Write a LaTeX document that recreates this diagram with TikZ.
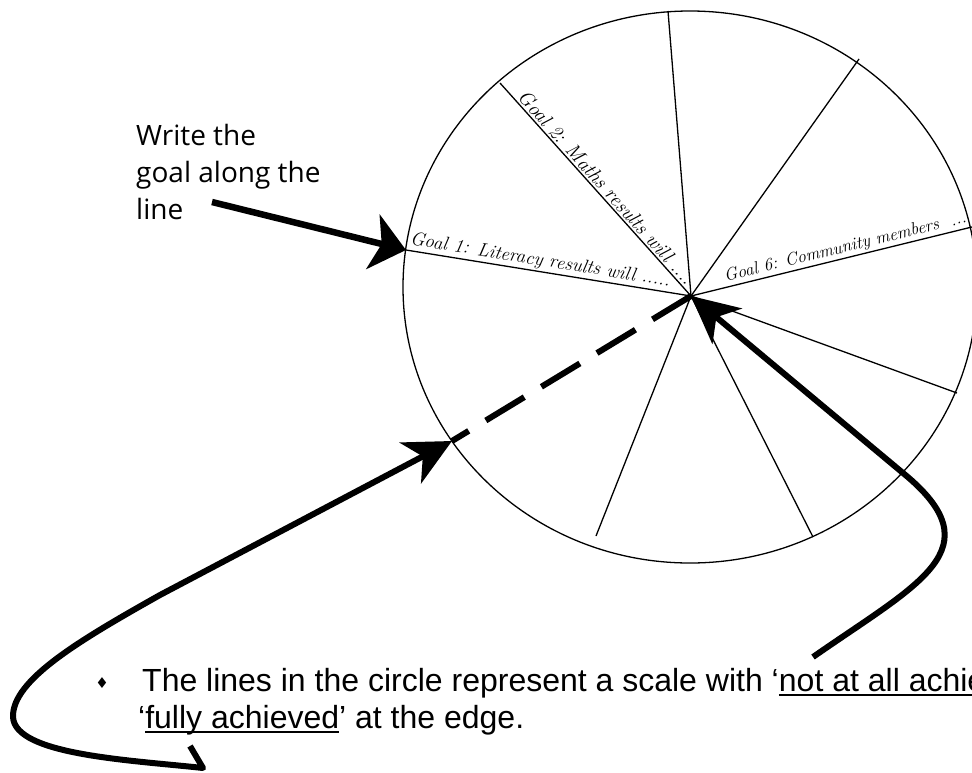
\documentclass[tikz,border=0pt]{standalone}
\usepackage{fontspec}
\newfontfamily\arialfont{Liberation Sans}
\newfontfamily\handfont{Open Sans}
\newfontfamily\symfont{DejaVu Sans}
\usetikzlibrary{arrows.meta}
\newcommand\myul[1]{\setbox0\hbox{#1}\rlap{\rule[-5pt]{\wd0}{1.8pt}}\box0}
\begin{document}
\begin{tikzpicture}[x=1pt,y=-1pt,
  thinline/.style={line width=1.3pt},
  spoke/.style={line width=1.3pt},
  goallabel/.style={sloped, above, inner sep=1.5pt},
  dashline/.style={line width=6pt, dash pattern=on 45pt off 20pt},
  bigarrow/.style={line width=6pt, line join=round, -{Stealth[length=47pt,width=46pt,inset=14pt]}},
  writearrow/.style={line width=6.5pt, -{Stealth[length=34pt,width=56pt,inset=9pt]}},
  bodytext/.style={font=\arialfont\fontsize{32}{37}\selectfont, inner sep=0pt}]
\useasboundingbox (0,0) rectangle (972,772);
\coordinate (H) at (691,296);
\coordinate (A1) at (406,250);
\coordinate (A2) at (500,83);
\coordinate (A3) at (668,11);
\coordinate (A4) at (859,59);
\coordinate (A5) at (976,226);
\coordinate (A6) at (957,393);
\coordinate (A7) at (813,537);
\coordinate (A8) at (596,536);
\coordinate (D) at (452,441);
\coordinate (C) at (690,287);
% circle
\draw[thinline] (C) ellipse [x radius=287pt, y radius=276pt];
% spokes
\draw[spoke] (A1) -- node[goallabel, pos=0.465, font=\itshape\fontsize{19}{19}\selectfont] (G1) {Goal 1: Literacy results will .....} (H);
\draw[spoke] (A2) -- node[goallabel, pos=0.52, font=\itshape\fontsize{20}{20}\selectfont] (G2) {Goal 2: Maths results will ....} (H);
\draw[spoke] (H) -- (A3);
\draw[spoke] (H) -- (A4);
\draw[spoke] (H) -- node[goallabel, pos=0.55, font=\itshape\fontsize{17.5}{17.5}\selectfont] (G6) {Goal 6: Community members \ ...} (A5);
\draw[spoke] (H) -- (A6);
\draw[spoke] (H) -- (A7);
\draw[spoke] (H) -- (A8);
\draw[dashline] (H) -- (D);
% write text and arrow
\node[anchor=north west, align=left, inner sep=0pt, font=\handfont\fontsize{28}{37}\selectfont] (W) at (136,124) {Write the\\goal along the\\line};
\coordinate (WT) at (212,202);
\draw[writearrow] (WT) -- (A1);
% lower-left arrow
\coordinate (L0) at (190,746);
\draw[bigarrow] (L0) -- (203,768) .. controls (130,760) and (15,755) .. (13,717)
  .. controls (12,680) and (80,640) .. (160,595) -- (D);
% right arrow
\coordinate (R0) at (813,657);
\draw[bigarrow] (R0) .. controls (919,583) and (996,549) .. (903,473) -- (H);
% bottom text
\node[font=\symfont\fontsize{15}{15}\selectfont, inner sep=0pt] (B) at (102,683) {♦};
\node[bodytext, anchor=base west] (T1) at (142,691) {The lines in the circle represent a scale with ‘\myul{not at all achie}};
\node[bodytext, anchor=base west] (T2) at (138,728) {‘\myul{fully achieved}’ at the edge.};
\end{tikzpicture}
\end{document}
